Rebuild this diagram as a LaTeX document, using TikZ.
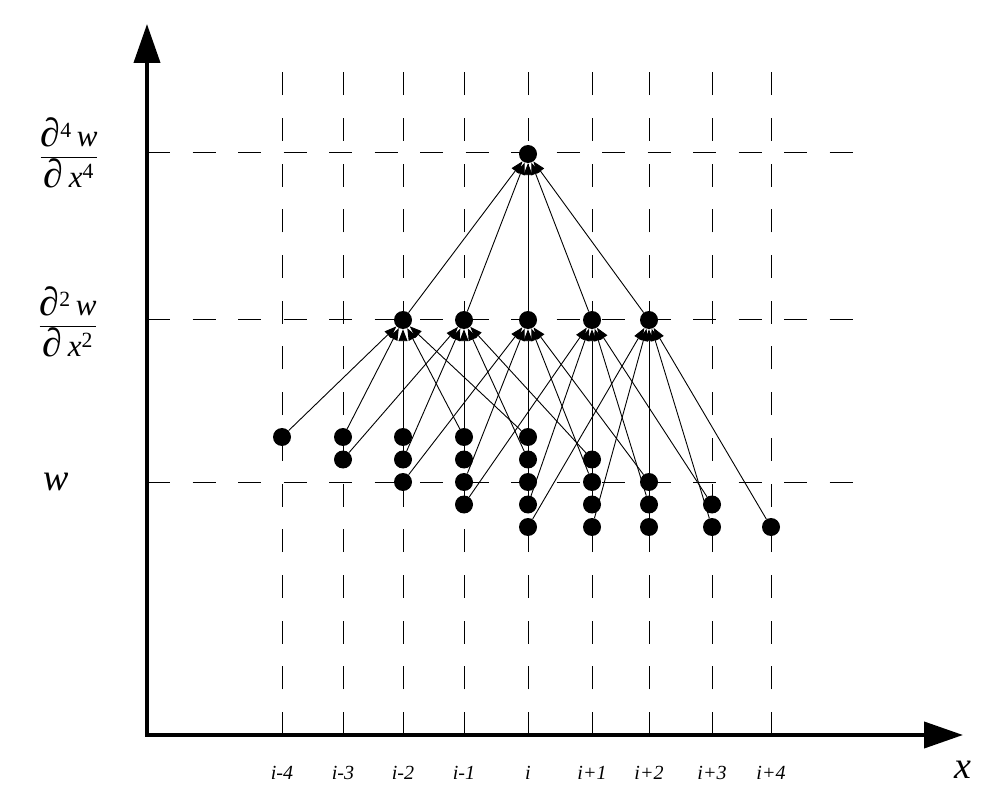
\documentclass[tikz,border=0pt]{standalone}
\usepackage{fontspec}
\setmainfont{Liberation Serif}
\usetikzlibrary{arrows.meta}
\newcommand{\pdbig}{{\fontsize{40}{40}\selectfont ∂}}
\begin{document}
\begin{tikzpicture}[x=1pt,y=-1pt,
  dot/.style={circle,fill=black,inner sep=0pt,minimum size=18pt},
  hgrid/.style={line width=1pt,dash pattern=on 23pt off 22.5pt},
  vgrid/.style={line width=1pt,dash pattern=on 23pt off 22.7pt},
  edge/.style={line width=0.9pt,-{Triangle[length=12pt,width=9pt]}},
  axisline/.style={line width=4pt,-{Triangle[length=39pt,width=26pt]}},
  ticklab/.style={font=\fontsize{20}{22}\selectfont\itshape},
  biglab/.style={font=\fontsize{38}{40}\selectfont\itshape},
  fraclab/.style={font=\fontsize{31}{33}\selectfont\itshape}
]
\useasboundingbox (0,0) rectangle (1002,810);
\def\xs{{282,343,403,464,528,592,649,712,771}}
% grid
\foreach \c in {0,...,8} {
  \pgfmathsetmacro\xx{\xs[\c]}
  \draw[vgrid] (\xx,735) -- (\xx,72);
}
\foreach \y in {153,320,482} {
  \draw[hgrid] (147,\y) -- (853,\y);
}
% axes
\coordinate (O) at (147,735);
\coordinate (Ytop) at (147,24);
\coordinate (Xend) at (963,735);
\draw[axisline] ([yshift=2pt]O) -- (Ytop);
\draw[axisline] ([xshift=-2pt]O) -- (Xend);
% w dots
\foreach \r in {0,...,4} {
  \foreach \d in {0,...,4} {
    \pgfmathtruncatemacro\c{\r+\d}
    \pgfmathsetmacro\xx{\xs[\c]}
    \pgfmathsetmacro\yy{437+22.5*\r}
    \node[dot] (w\c-\r) at (\xx,\yy) {};
  }
}
% second derivative nodes
\foreach \m in {0,...,4} {
  \pgfmathtruncatemacro\c{\m+2}
  \pgfmathsetmacro\xx{\xs[\c]}
  \node[dot] (s\m) at (\xx,320) {};
}
\node[dot] (t) at (528,154) {};
% connectors
\foreach \m in {0,...,4} {
  \foreach \d in {0,...,4} {
    \pgfmathtruncatemacro\c{\m+\d}
    \draw[edge] (w\c-\m) -- (s\m);
  }
  \draw[edge] (s\m) -- (t);
}
% tick labels
\foreach \c/\t in {0/i-4,1/i-3,2/i-2,3/i-1,4/i,5/i+1,6/i+2,7/i+3,8/i+4} {
  \pgfmathsetmacro\xx{\xs[\c]}
  \node[ticklab] (lab\c) at (\xx,773) {\t};
}
\node[biglab] (xlab) at (963,770) {x};
\node[biglab] (wlab) at (56,482) {w};
\node[fraclab] (f4) at (69,153) {$\displaystyle\frac{\mbox{\pdbig\textsuperscript{\upshape 4}\,w}}{\mbox{\pdbig\,x\textsuperscript{\upshape 4}}}$};
\node[fraclab] (f2) at (68,322) {$\displaystyle\frac{\mbox{\pdbig\textsuperscript{\upshape 2}\,w}}{\mbox{\pdbig\,x\textsuperscript{\upshape 2}}}$};
\end{tikzpicture}
\end{document}
